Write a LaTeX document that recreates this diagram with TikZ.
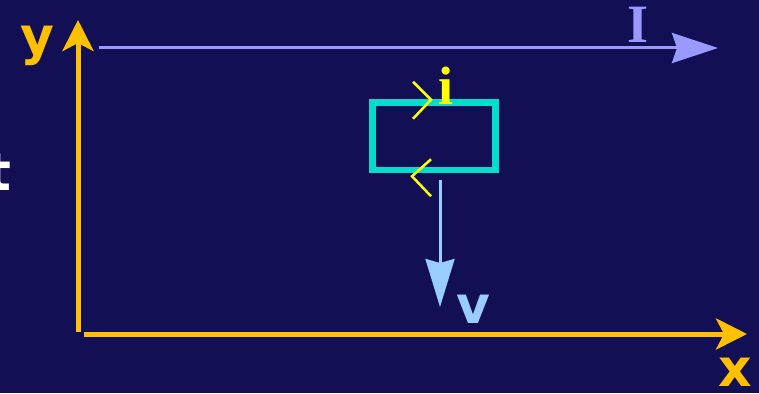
\documentclass[tikz,border=0pt]{standalone}
\usepackage{fontspec}
\setsansfont{DejaVu Sans}
\newfontfamily\serifface{Liberation Serif}
\usetikzlibrary{arrows.meta, positioning, calc}
\definecolor{cbg}{HTML}{130F55}
\definecolor{caxis}{HTML}{FFC000}
\definecolor{ccur}{HTML}{9999FF}
\definecolor{cloop}{HTML}{00DDCC}
\definecolor{cyel}{HTML}{FFFF00}
\definecolor{cvel}{HTML}{99CCFF}
\tikzset{
  every picture/.style={x=1pt, y=-1pt},
  axis/.style={draw=caxis, line width=5pt, -{Stealth[length=31pt, width=31pt, inset=8pt]}},
  wire/.style={draw=ccur, line width=3pt, -{Stealth[length=46pt, width=30pt, inset=5pt]}},
  vel/.style={draw=cvel, line width=3pt, -{Stealth[length=48pt, width=29pt, inset=4pt]}},
  coilbox/.style={draw=cloop, line width=6.5pt, minimum width=123pt, minimum height=67.5pt, inner sep=0pt},
  chev/.style={draw=cyel, line width=2.5pt},
  lbl/.style={font=\sffamily\bfseries\fontsize{52}{60}\selectfont, inner sep=0pt, anchor=base},
  slbl/.style={font=\serifface\bfseries\fontsize{54}{60}\selectfont, inner sep=0pt, anchor=base},
}

\begin{document}
\begin{tikzpicture}
  \fill[cbg] (0,0) rectangle (759,393);
  \useasboundingbox (0,0) rectangle (759,393);
  % axes
  \coordinate (ybase) at (78,332);
  \coordinate (ytip) at (78,20);
  \coordinate (xbase) at (84,334);
  \coordinate (xtip) at (747,334);
  \draw[axis] (ybase) -- (ytip);
  \draw[axis] (xbase) -- (xtip);
  \node[lbl, text=caxis] (ylab) at (37,55) {y};
  \node[lbl, text=caxis] (xlab) at (735,386) {x};
  \node[lbl, text=white, anchor=base east] (tlab) at (12,190) {t};
  % wire with current I
  \coordinate (wstart) at (99,48);
  \coordinate (wend) at (718,48);
  \draw[wire] (wstart) -- (wend);
  \node[slbl, text=ccur] (Ilab) at (638,43) {I};
  % loop
  \node[coilbox] (coil) at (434,136.25) {};
  \node[slbl, text=cyel] (ilab) at (446,104) {i};
  \coordinate (ctop) at ($(coil.north)+(-3,0.5)$);
  \coordinate (cbot) at ($(coil.south)+(-22,3)$);
  \draw[chev] ($(ctop)+(-18,-18)$) -- (ctop) -- ($(ctop)+(-18,19)$);
  \draw[chev] ($(cbot)+(19,-17)$) -- (cbot) -- ($(cbot)+(19,20)$);
  % velocity
  \coordinate (vstart) at ($(coil.south)+(6,7)$);
  \coordinate (vend) at (440,307);
  \draw[vel] (vstart) -- (vend);
  \node[lbl, text=cvel] (vlab) at (473,323) {v};
\end{tikzpicture}
\end{document}
